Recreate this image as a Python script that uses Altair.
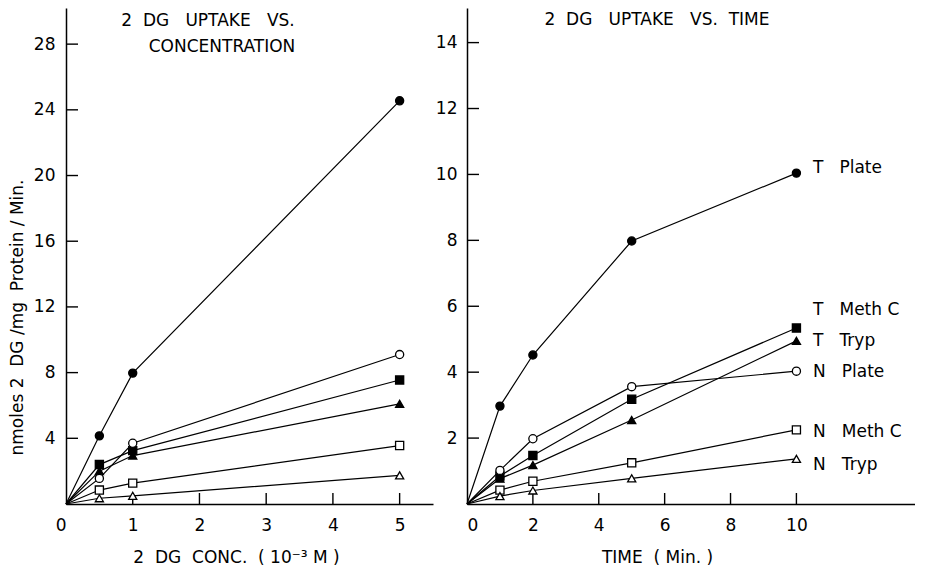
import altair as alt
import pandas as pd

series = ["T Plate", "T Meth C", "T Tryp", "N Plate", "N Meth C", "N Tryp"]
shapes = ["circle", "square", "triangle-up", "circle", "square", "triangle-up"]
fills = ["black", "black", "black", "white", "white", "white"]

# Left panel: uptake vs concentration (10^-3 M)
conc = [0, 0.5, 1, 5]
conc_vals = {
    "T Plate": [0, 4.15, 7.97, 24.55],
    "T Meth C": [0, 2.4, 3.25, 7.55],
    "T Tryp": [0, 2.0, 2.95, 6.1],
    "N Plate": [0, 1.56, 3.7, 9.1],
    "N Meth C": [0, 0.85, 1.27, 3.56],
    "N Tryp": [0, 0.35, 0.5, 1.74],
}

# Right panel: uptake vs time (min)
time = [0, 1, 2, 5, 10]
time_vals = {
    "T Plate": [0, 2.97, 4.52, 7.98, 10.04],
    "T Meth C": [0, 0.85, 1.47, 3.18, 5.34],
    "T Tryp": [0, 0.77, 1.18, 2.55, 4.95],
    "N Plate": [0, 1.02, 1.98, 3.56, 4.03],
    "N Meth C": [0, 0.42, 0.69, 1.25, 2.25],
    "N Tryp": [0, 0.24, 0.41, 0.78, 1.37],
}

NB = "\u00a0"
label_text = ["T" + NB * 3 + "Plate", "T" + NB * 3 + "Meth" + NB + "C",
              "T" + NB * 3 + "Tryp", "N" + NB * 3 + "Plate",
              "N" + NB * 3 + "Meth" + NB + "C", "N" + NB * 3 + "Tryp"]
label_y = [10.2, 5.88, 4.94, 4.0, 2.19, 1.17]

left_xticks = [0, 1, 2, 3, 4, 5]
left_yticks = [4, 8, 12, 16, 20, 24, 28]
right_xticks = [0, 2, 4, 6, 8, 10]
right_yticks = [2, 4, 6, 8, 10, 12, 14]

FONT = "DejaVu Sans"
LW, RW, H = 367, 448, 496


def long_df(xs, vals):
    rows = []
    for s in series:
        for x, y in zip(xs, vals[s]):
            rows.append({"series": s, "x": x, "y": y})
    return pd.DataFrame(rows)


shape_scale = alt.Scale(domain=series, range=shapes)
fill_scale = alt.Scale(domain=series, range=fills)


def panel(xs, vals, xsc, ysc, xticks, yticks, xaxis, yaxis):
    df = long_df(xs, vals)
    X = alt.X("x:Q", scale=xsc, axis=xaxis)
    Y = alt.Y("y:Q", scale=ysc, axis=yaxis)
    lines = alt.Chart(df).mark_line(color="black", strokeWidth=1.2).encode(
        x=X, y=Y, detail="series:N",
    )
    pts = alt.Chart(df[df["x"] > 0]).mark_point(
        filled=True, stroke="black", strokeWidth=1.3, opacity=1, size=66
    ).encode(
        x=X, y=Y,
        shape=alt.Shape("series:N", scale=shape_scale, legend=None),
        fill=alt.Fill("series:N", scale=fill_scale, legend=None),
    )
    yt = alt.Chart(pd.DataFrame({"y": yticks})).mark_rule(
        color="black", strokeWidth=1.4
    ).encode(y=Y, x=alt.value(0), x2=alt.value(12))
    xt = alt.Chart(pd.DataFrame({"x": [t for t in xticks if t > 0]})).mark_rule(
        color="black", strokeWidth=1.4
    ).encode(x=X, y=alt.value(H), y2=alt.value(H - 11))
    return [lines, yt, xt, pts], Y


left_xsc = alt.Scale(domain=[0, 5.5], nice=False, zero=False)
left_ysc = alt.Scale(domain=[0, 30.2], nice=False, zero=False)
right_xsc = alt.Scale(domain=[0, 13.6], nice=False, zero=False)
right_ysc = alt.Scale(domain=[0, 15.05], nice=False, zero=False)

left_xaxis = alt.Axis(
    values=left_xticks, format="d", ticks=False, grid=False, labelPadding=13,
    labelAlign={"condition": {"test": "datum.value == 0", "value": "right"}, "value": "center"},
    title="2" + NB * 2 + "DG" + NB * 2 + "CONC." + NB * 2 + "(" + NB + "10\u207b\u00b3" + NB + "M" + NB + ")",
    titleX=170, titleY=58, titleBaseline="alphabetic", titleAlign="center",
)
left_yaxis = alt.Axis(
    values=left_yticks, format="d", ticks=False, grid=False, labelPadding=11,
    title="nmoles" + NB + "2" + NB * 2 + "DG" + NB + "/mg" + NB * 2 + "Protein" + NB + "/" + NB + "Min.",
    titleX=-44, titleY=309, titleBaseline="alphabetic", titleAlign="center",
    titleAngle=-90, titleFontSize=17,
)
right_xaxis = alt.Axis(
    values=right_xticks, format="d", ticks=False, grid=False, labelPadding=13,
    title="TIME" + NB * 2 + "(" + NB + "Min." + NB + ")",
    titleX=190, titleY=58, titleBaseline="alphabetic", titleAlign="center",
)
right_yaxis = alt.Axis(
    values=right_yticks, format="d", ticks=False, grid=False, labelPadding=10, title=None,
)

left_layers, _ = panel(conc, conc_vals, left_xsc, left_ysc, left_xticks, left_yticks,
                       left_xaxis, left_yaxis)
right_layers, RY = panel(time, time_vals, right_xsc, right_ysc, right_xticks, right_yticks,
                         right_xaxis, right_yaxis)

text_style = dict(fontSize=17, align="center", baseline="alphabetic", color="black", font=FONT)

left_title1 = alt.Chart(pd.DataFrame({"t": ["2" + NB * 2 + "DG" + NB * 3 + "UPTAKE" + NB * 3 + "VS."]})).mark_text(
    **text_style).encode(text="t:N", x=alt.value(142), y=alt.value(17.5))
left_title2 = alt.Chart(pd.DataFrame({"t": ["CONCENTRATION"]})).mark_text(
    **text_style).encode(text="t:N", x=alt.value(156), y=alt.value(44))

right_title = alt.Chart(pd.DataFrame({"t": ["2" + NB * 2 + "DG" + NB * 3 + "UPTAKE" + NB * 3 + "VS." + NB * 2 + "TIME"]})).mark_text(
    **text_style).encode(text="t:N", x=alt.value(190), y=alt.value(17))

right_labels = alt.Chart(pd.DataFrame({"label": label_text, "y": label_y})).mark_text(
    fontSize=17, align="left", baseline="middle", color="black", font=FONT
).encode(
    text="label:N",
    x=alt.value(10.5 * RW / 13.6),
    y=RY,
)

left = alt.layer(*left_layers, left_title1, left_title2).properties(width=LW, height=H)
right = alt.layer(*right_layers, right_title, right_labels).properties(width=RW, height=H)

chart = alt.hconcat(left, right, spacing=34, bounds="flush").properties(
    padding=0
).resolve_scale(
    x="independent", y="independent", shape="independent", fill="independent"
).configure(font=FONT).configure_view(stroke=None).configure_axis(
    domainColor="black", domainWidth=1.5, labelColor="black", labelFontSize=17,
    labelFont=FONT, titleFont=FONT, titleColor="black", titleFontSize=17,
    titleFontWeight="normal",
)

chart.save("out.html", embed_options={"renderer": "svg", "actions": False})
